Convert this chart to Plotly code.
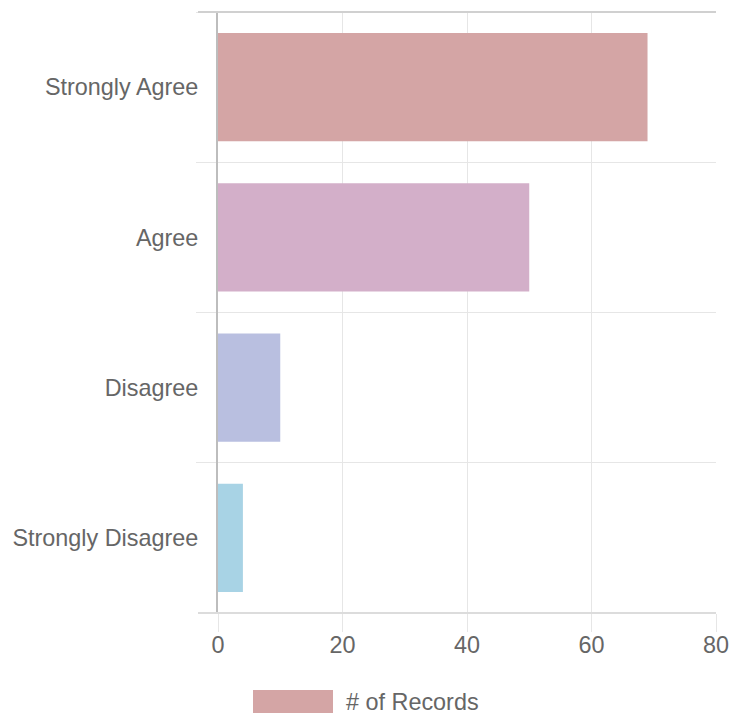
import plotly.graph_objects as go

categories = ["Strongly Agree", "Agree", "Disagree", "Strongly Disagree"]
values = [69, 50, 10, 4]
colors = ["#d4a5a5", "#d3afc9", "#b9bfe0", "#a8d3e5"]
series_name = "# of Records"
x_ticks = [0, 20, 40, 60, 80]

FONT = "Liberation Sans, Arial, sans-serif"
TXT = "#666666"
FS = 23.4

W, H = 731, 715
L, R, T, B = 218, 15, 12, 102
PW = W - L - R
PH = H - T - B

fig = go.Figure()
fig.add_trace(go.Bar(
    y=categories, x=values, orientation="h",
    marker=dict(color=colors, line=dict(width=0)),
    name=series_name, showlegend=False,
))

fig.update_layout(
    width=W, height=H,
    margin=dict(l=L, r=R, t=T, b=B, autoexpand=False),
    paper_bgcolor="white", plot_bgcolor="white",
    bargap=0.28,
    font=dict(family=FONT, size=FS, color=TXT),
    xaxis=dict(
        range=[0, 80], tickvals=x_ticks, showgrid=True, gridcolor="#e6e6e6", gridwidth=1,
        zeroline=False, ticks="outside", ticklen=18, tickcolor="#e6e6e6",
        ticklabelstandoff=-7, automargin=False,
        showline=False, tickfont=dict(size=FS, color=TXT, family=FONT),
    ),
    yaxis=dict(
        type="category", categoryorder="array", categoryarray=categories,
        autorange="reversed", tickson="boundaries", showgrid=True, gridcolor="#e6e6e6",
        ticks="outside", ticklen=20, tickcolor="#e6e6e6", ticklabelstandoff=13,
        showline=True, linecolor="#bdbdbd", linewidth=2, automargin=False,
        zeroline=False, tickfont=dict(size=FS, color=TXT, family=FONT),
    ),
)

fig.add_shape(type="line", xref="paper", yref="paper", x0=-20/PW, x1=1, y0=1, y1=1,
              line=dict(color="#d0d0d0", width=2))
fig.add_shape(type="line", xref="paper", yref="paper", x0=-20/PW, x1=1, y0=0, y1=0,
              line=dict(color="#dcdcdc", width=2))

# legend swatch + label
fig.add_shape(type="rect", xref="paper", yref="paper",
              x0=(253-218)/PW, x1=(333-218)/PW, y0=-(690-613)/PH, y1=-(713-613)/PH,
              fillcolor=colors[0], line=dict(width=0))
fig.add_annotation(xref="paper", yref="paper", x=(344-218)/PW, y=-(701.5-613)/PH,
                   text=series_name, showarrow=False, xanchor="left", yanchor="middle",
                   font=dict(size=FS, color=TXT, family=FONT))

fig.write_html(
    "out.html",
    config={"displayModeBar": False},
    post_script="document.body.style.margin='0';document.documentElement.style.overflow='hidden';",
)
